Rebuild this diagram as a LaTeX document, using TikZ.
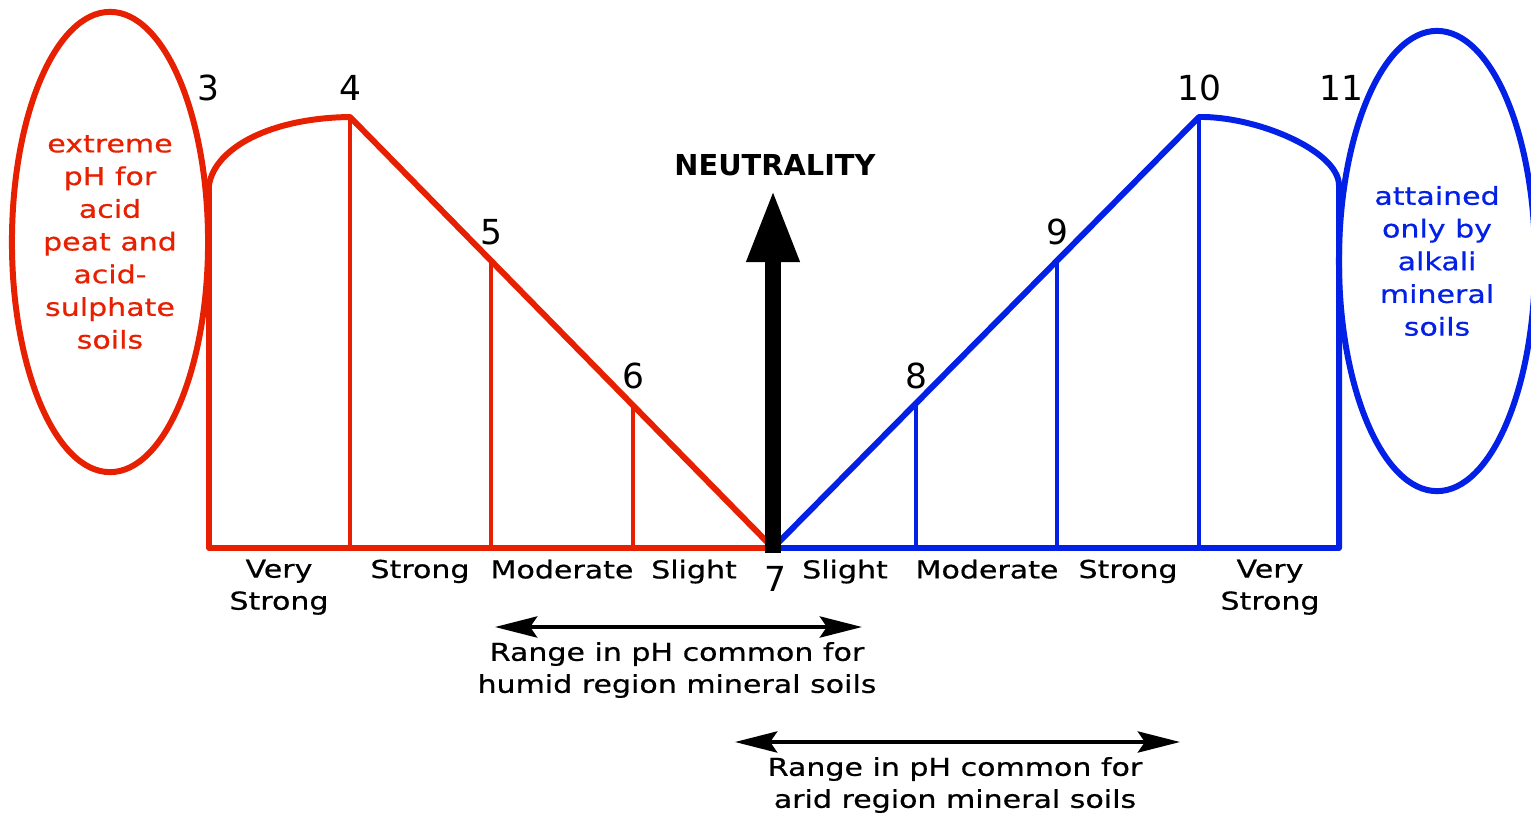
\documentclass[tikz,border=0pt]{standalone}
\usepackage{fontspec}
\setmainfont{DejaVu Sans}
\newfontfamily\widesans{DejaVu Sans}[FakeStretch=1.22,FakeBold=0.6]
\usetikzlibrary{arrows.meta,shapes.geometric}
\definecolor{acidred}{RGB}{230,32,0}
\definecolor{alkblue}{RGB}{2,32,230}
\tikzset{
phnum/.style={font=\fontsize{9.8}{10}\selectfont,inner sep=0pt},
grade/.style={font=\widesans\fontsize{7}{9.1}\selectfont,align=center,anchor=north,inner sep=0pt},
extremes/.style={draw,ellipse,line width=1.7pt,minimum width=1.96cm,minimum height=4.6cm,align=center,inner sep=0pt,font=\widesans\fontsize{7}{9.3}\selectfont},
rangetext/.style={font=\widesans\fontsize{7}{9.1}\selectfont,align=center,inner sep=0pt},
rangearrow/.style={{Stealth[length=12pt,width=6pt,inset=2pt]}-{Stealth[length=12pt,width=6pt,inset=2pt]},line width=1.2pt},
outline/.style={line width=1.7pt,line join=round},
divider/.style={line width=1.4pt}
}
\begin{document}
\begin{tikzpicture}[x=0.01cm,y=-0.01cm]
\useasboundingbox (0,0) rectangle (1531,818);
% acid side
\coordinate (n7) at (773,548);
\coordinate (r3) at (209,185);\coordinate (r4) at (350,117);\coordinate (r5) at (491,261);\coordinate (r6) at (633,405);
\draw[outline,acidred](n7)--(209,548)--(r3) .. controls (215,148) and (270,118) .. (r4)--cycle;
\draw[divider,acidred](r4)--(r4|-n7);\draw[divider,acidred](r5)--(r5|-n7);\draw[divider,acidred](r6)--(r6|-n7);
\node[extremes,acidred](acid) at (110,242){extreme\\pH for\\acid\\peat and\\acid-\\sulphate\\soils};
% alkaline side
\coordinate (b8) at (916,404);\coordinate (b9) at (1057,261);\coordinate (b10) at (1199,117);\coordinate (b11) at (1339,185);
\draw[outline,alkblue](n7)--(1339,548)--(b11) .. controls (1338,150) and (1255,116) .. (b10)--cycle;
\draw[divider,alkblue](b8)--(b8|-n7);\draw[divider,alkblue](b9)--(b9|-n7);\draw[divider,alkblue](b10)--(b10|-n7);
\node[extremes,alkblue](alkali) at (1437,261){attained\\only by\\alkali\\mineral\\soils};
% neutrality
\coordinate (top) at (773,190);
\draw[line width=4.4pt,-{Triangle[length=20.5pt,width=14pt]}](773,553)--(top);
\node[font=\bfseries\fontsize{8.2}{9}\selectfont,inner sep=0pt](neutral) at (775,165){NEUTRALITY};
% pH values
\node[phnum](l3) at (208,88){3};\node[phnum](l4) at (350,88){4};\node[phnum](l5) at (491,232){5};
\node[phnum](l6) at (633,376){6};\node[phnum](l7) at (775,579){7};\node[phnum](l8) at (916,376){8};
\node[phnum](l9) at (1057,232){9};\node[phnum](l10) at (1199,88){10};\node[phnum](l11) at (1341,88){11};
% grades
\node[grade](vsa) at (279,559){Very\\Strong};\node[grade](sa) at (420,559){Strong};
\node[grade](ma) at (562,559){Moderate};\node[grade](sla) at (694,559){Slight};
\node[grade](slb) at (845,559){Slight};\node[grade](mb) at (987,559){Moderate};
\node[grade](sb) at (1128,559){Strong};\node[grade](vsb) at (1270,559){Very\\Strong};
% common ranges
\coordinate (h1) at (495,627);\coordinate (h2) at (862,627);
\draw[rangearrow](h1)--(h2);
\node[rangetext](humid) at (677,670){Range in pH common for\\humid region mineral soils};
\coordinate (d1) at (735,742);\coordinate (d2) at (1180,742);
\draw[rangearrow](d1)--(d2);
\node[rangetext](arid) at (955,785){Range in pH common for\\arid region mineral soils};
\end{tikzpicture}
\end{document}
